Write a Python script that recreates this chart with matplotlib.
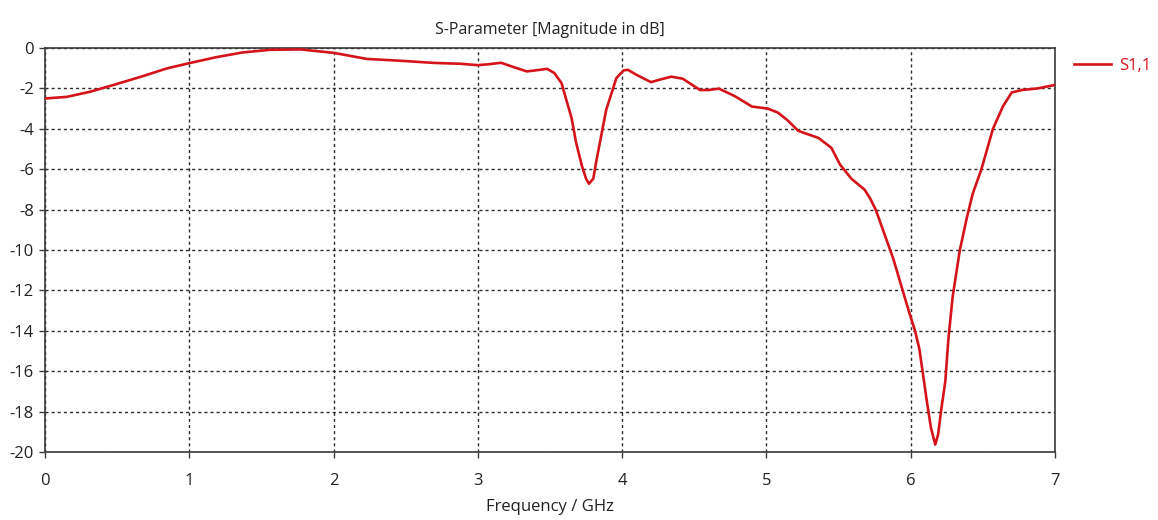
import matplotlib
matplotlib.use("Agg")
import matplotlib.pyplot as plt

# ---- data ----
freq_ghz = [0.00, 0.15, 0.31, 0.47, 0.68, 0.84, 1.00, 1.19, 1.37, 1.56, 1.77,
            2.00, 2.23, 2.46, 2.70, 2.88, 3.00, 3.08, 3.16, 3.25, 3.34, 3.43,
            3.48, 3.53, 3.58, 3.61, 3.65, 3.68, 3.72, 3.75, 3.77, 3.80, 3.82,
            3.86, 3.89, 3.93, 3.96, 4.01, 4.04, 4.10, 4.20, 4.27, 4.34, 4.42,
            4.54, 4.60, 4.67, 4.78, 4.90, 5.01, 5.08, 5.15, 5.22, 5.30, 5.36,
            5.45, 5.51, 5.59, 5.68, 5.72, 5.76, 5.82, 5.88, 5.94, 5.99, 6.03,
            6.06, 6.08, 6.11, 6.14, 6.17, 6.19, 6.21, 6.24, 6.26, 6.29, 6.34,
            6.39, 6.43, 6.49, 6.57, 6.64, 6.70, 6.77, 6.88, 7.00]
s11_db = [-2.50, -2.42, -2.17, -1.84, -1.39, -1.02, -0.75, -0.45, -0.22, -0.09, -0.07,
          -0.24, -0.54, -0.63, -0.74, -0.78, -0.85, -0.80, -0.73, -0.95, -1.16, -1.08,
          -1.03, -1.24, -1.74, -2.49, -3.48, -4.65, -5.81, -6.47, -6.72, -6.47, -5.64,
          -4.15, -3.05, -2.16, -1.49, -1.11, -1.08, -1.33, -1.69, -1.55, -1.42, -1.52,
          -2.08, -2.08, -2.01, -2.38, -2.90, -3.00, -3.20, -3.60, -4.10, -4.30, -4.45,
          -4.94, -5.77, -6.48, -7.01, -7.46, -8.05, -9.25, -10.45, -11.90, -13.10, -14.0,
          -14.90, -15.90, -17.40, -18.80, -19.63, -19.13, -17.98, -16.49, -14.5, -12.35, -10.02,
          -8.37, -7.21, -6.0, -4.0, -2.88, -2.20, -2.08, -2.00, -1.83]
series_label = "S1,1"
x_ticks = [0, 1, 2, 3, 4, 5, 6, 7]
y_ticks = [0, -2, -4, -6, -8, -10, -12, -14, -16, -18, -20]
title = "S-Parameter [Magnitude in dB]"
x_label = "Frequency / GHz"

plt.rcParams['font.family'] = ['Open Sans', 'DejaVu Sans']
plt.rcParams['axes.unicode_minus'] = False

fig = plt.figure(figsize=(11.58, 5.2), dpi=100)
ax = fig.add_axes([45 / 1158, 1 - 452 / 520, 1010 / 1158, 404 / 520])

curve_color = '#d4141a'
ax.plot(freq_ghz, s11_db, color=curve_color, linewidth=1.9, label=series_label,
        solid_joinstyle='round', zorder=3)

ax.set_xlim(0, 7)
ax.set_ylim(-20, 0)
ax.set_xticks(x_ticks)
ax.set_xticklabels([str(t) for t in x_ticks])
ax.set_yticks(y_ticks)
ax.set_yticklabels([str(t) for t in y_ticks])

ax.grid(True, color='#2a2a2a', linestyle=(0, (2.2, 2.2)), linewidth=1.0)
for sp in ax.spines.values():
    sp.set_color('#3a3a3a')
    sp.set_linewidth(1.2)

ax.tick_params(axis='both', direction='out', length=4, width=1.0,
               color='#3a3a3a', labelsize=12, labelcolor='#222222')
ax.tick_params(axis='x', pad=11)
ax.tick_params(axis='y', pad=4)

ax.set_title(title, fontsize=11.5, color='#222222', pad=10)
ax.set_xlabel(x_label, fontsize=12, color='#222222', labelpad=7)

leg = ax.legend(loc='center left', bbox_to_anchor=(1.0188, 0.955), frameon=False,
                fontsize=12, handlelength=2.2, handletextpad=0.5, borderpad=0,
                borderaxespad=0)
for t in leg.get_texts():
    t.set_color(curve_color)

fig.savefig('out.png', dpi=100)
